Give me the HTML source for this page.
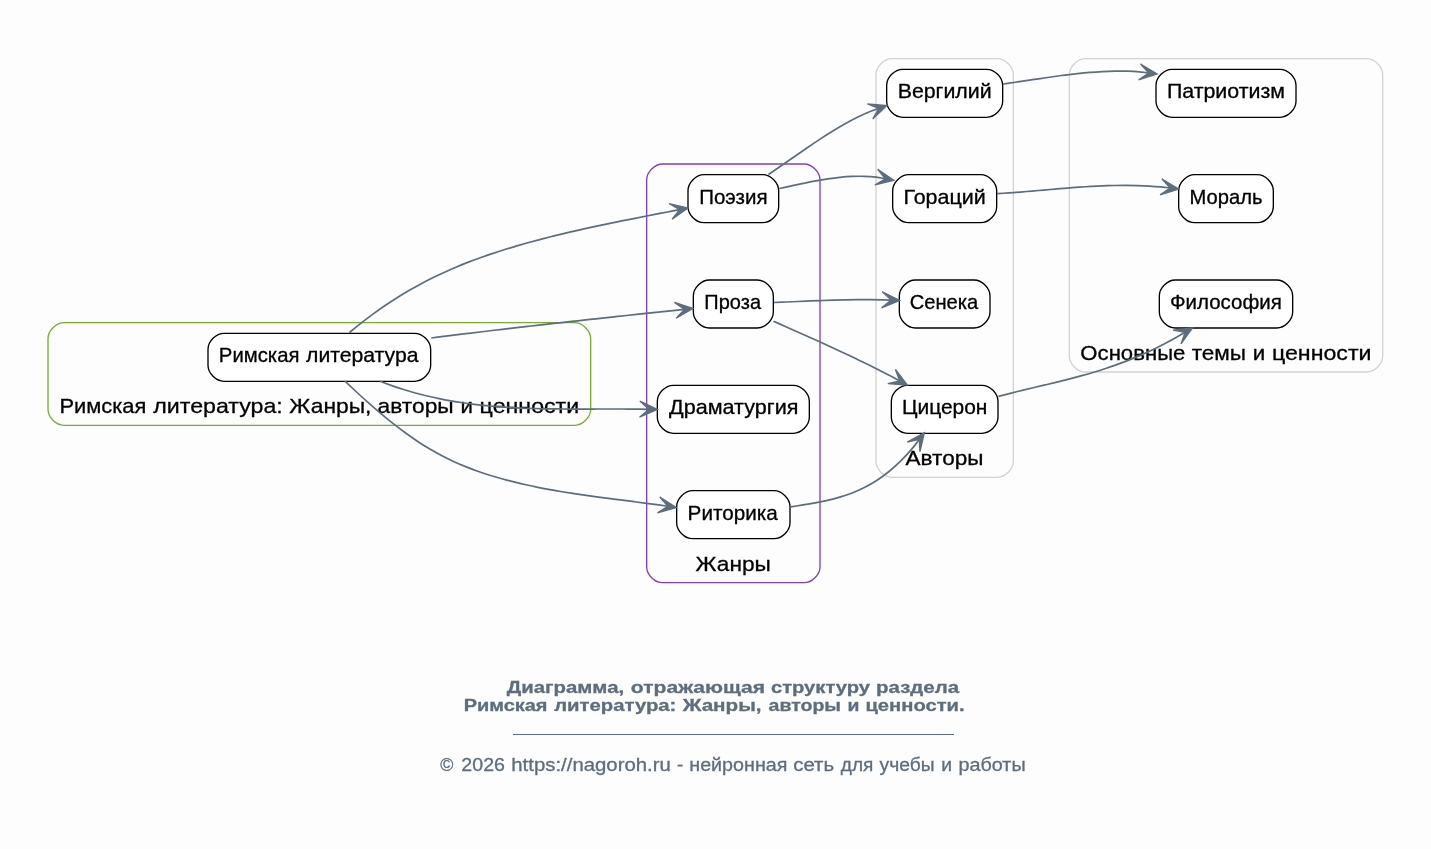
<!DOCTYPE html>
<html lang="ru"><head><meta charset="utf-8"><title>Римская литература</title>
<style>
html,body{margin:0;padding:0;background:#fdfdfd;overflow:hidden}
svg{display:block;font-family:"Liberation Sans",sans-serif;will-change:transform}
</style></head><body>
<svg width="1431" height="849" viewBox="0 0 1431 849">
<g id="clusters">
<path d="M64.00,425.33 C64.00,425.33 574.67,425.33 574.67,425.33 582.67,425.33 590.67,417.33 590.67,409.33 590.67,409.33 590.67,338.67 590.67,338.67 590.67,330.67 582.67,322.67 574.67,322.67 574.67,322.67 64.00,322.67 64.00,322.67 56.00,322.67 48.00,330.67 48.00,338.67 48.00,338.67 48.00,409.33 48.00,409.33 48.00,417.33 56.00,425.33 64.00,425.33" fill="none" stroke="#79ad30" stroke-width="1.33"/>
<text x="59.43" y="413.33" font-size="20.80" textLength="86.94" lengthAdjust="spacingAndGlyphs" fill="#000" stroke="#000" stroke-width="0.30">Римская</text>
<text x="153.32" y="413.33" font-size="20.80" textLength="129.45" lengthAdjust="spacingAndGlyphs" fill="#000" stroke="#000" stroke-width="0.30">литература:</text>
<text x="289.39" y="413.33" font-size="20.80" textLength="82.06" lengthAdjust="spacingAndGlyphs" fill="#000" stroke="#000" stroke-width="0.30">Жанры,</text>
<text x="377.60" y="413.33" font-size="20.80" textLength="76.15" lengthAdjust="spacingAndGlyphs" fill="#000" stroke="#000" stroke-width="0.30">авторы</text>
<text x="460.51" y="413.33" font-size="20.80" textLength="12.46" lengthAdjust="spacingAndGlyphs" fill="#000" stroke="#000" stroke-width="0.30">и</text>
<text x="479.63" y="413.33" font-size="20.80" textLength="99.55" lengthAdjust="spacingAndGlyphs" fill="#000" stroke="#000" stroke-width="0.30">ценности</text>
<path d="M662.67,582.67 C662.67,582.67 804.00,582.67 804.00,582.67 812.00,582.67 820.00,574.67 820.00,566.67 820.00,566.67 820.00,180.00 820.00,180.00 820.00,172.00 812.00,164.00 804.00,164.00 804.00,164.00 662.67,164.00 662.67,164.00 654.67,164.00 646.67,172.00 646.67,180.00 646.67,180.00 646.67,566.67 646.67,566.67 646.67,574.67 654.67,582.67 662.67,582.67" fill="none" stroke="#7a40cc" stroke-width="1.33"/>
<text x="695.57" y="570.67" font-size="20.80" textLength="75.30" lengthAdjust="spacingAndGlyphs" fill="#000" stroke="#000" stroke-width="0.30">Жанры</text>
<path d="M892.00,477.33 C892.00,477.33 997.33,477.33 997.33,477.33 1005.33,477.33 1013.33,469.33 1013.33,461.33 1013.33,461.33 1013.33,74.67 1013.33,74.67 1013.33,66.67 1005.33,58.67 997.33,58.67 997.33,58.67 892.00,58.67 892.00,58.67 884.00,58.67 876.00,66.67 876.00,74.67 876.00,74.67 876.00,461.33 876.00,461.33 876.00,469.33 884.00,477.33 892.00,477.33" fill="none" stroke="#d3d3d3" stroke-width="1.33"/>
<text x="905.57" y="465.33" font-size="20.80" textLength="77.98" lengthAdjust="spacingAndGlyphs" fill="#000" stroke="#000" stroke-width="0.30">Авторы</text>
<path d="M1085.33,372.00 C1085.33,372.00 1366.67,372.00 1366.67,372.00 1374.67,372.00 1382.67,364.00 1382.67,356.00 1382.67,356.00 1382.67,74.67 1382.67,74.67 1382.67,66.67 1374.67,58.67 1366.67,58.67 1366.67,58.67 1085.33,58.67 1085.33,58.67 1077.33,58.67 1069.33,66.67 1069.33,74.67 1069.33,74.67 1069.33,356.00 1069.33,356.00 1069.33,364.00 1077.33,372.00 1085.33,372.00" fill="none" stroke="#d3d3d3" stroke-width="1.33"/>
<text x="1080.36" y="360.00" font-size="20.80" textLength="105.00" lengthAdjust="spacingAndGlyphs" fill="#000" stroke="#000" stroke-width="0.30">Основные</text>
<text x="1191.67" y="360.00" font-size="20.80" textLength="54.39" lengthAdjust="spacingAndGlyphs" fill="#000" stroke="#000" stroke-width="0.30">темы</text>
<text x="1252.83" y="360.00" font-size="20.80" textLength="12.46" lengthAdjust="spacingAndGlyphs" fill="#000" stroke="#000" stroke-width="0.30">и</text>
<text x="1271.95" y="360.00" font-size="20.80" textLength="99.55" lengthAdjust="spacingAndGlyphs" fill="#000" stroke="#000" stroke-width="0.30">ценности</text>
</g>
<g id="nodes">
<path d="M414.67,333.33 C414.67,333.33 224.00,333.33 224.00,333.33 216.00,333.33 208.00,341.33 208.00,349.33 208.00,349.33 208.00,365.33 208.00,365.33 208.00,373.33 216.00,381.33 224.00,381.33 224.00,381.33 414.67,381.33 414.67,381.33 422.67,381.33 430.67,373.33 430.67,365.33 430.67,365.33 430.67,349.33 430.67,349.33 430.67,341.33 422.67,333.33 414.67,333.33" fill="#fff" stroke="#000" stroke-width="1.33"/>
<text x="218.86" y="362.27" font-size="19.41" textLength="80.63" lengthAdjust="spacingAndGlyphs" fill="#000" stroke="#000" stroke-width="0.30">Римская</text>
<text x="306.09" y="362.27" font-size="19.41" textLength="112.40" lengthAdjust="spacingAndGlyphs" fill="#000" stroke="#000" stroke-width="0.30">литература</text>
<path d="M762.67,174.67 C762.67,174.67 704.00,174.67 704.00,174.67 696.00,174.67 688.00,182.67 688.00,190.67 688.00,190.67 688.00,206.67 688.00,206.67 688.00,214.67 696.00,222.67 704.00,222.67 704.00,222.67 762.67,222.67 762.67,222.67 770.67,222.67 778.67,214.67 778.67,206.67 778.67,206.67 778.67,190.67 778.67,190.67 778.67,182.67 770.67,174.67 762.67,174.67" fill="#fff" stroke="#000" stroke-width="1.33"/>
<text x="699.26" y="203.60" font-size="19.41" textLength="68.26" lengthAdjust="spacingAndGlyphs" fill="#000" stroke="#000" stroke-width="0.30">Поэзия</text>
<path d="M757.33,280.00 C757.33,280.00 709.33,280.00 709.33,280.00 701.33,280.00 693.33,288.00 693.33,296.00 693.33,296.00 693.33,312.00 693.33,312.00 693.33,320.00 701.33,328.00 709.33,328.00 709.33,328.00 757.33,328.00 757.33,328.00 765.33,328.00 773.33,320.00 773.33,312.00 773.33,312.00 773.33,296.00 773.33,296.00 773.33,288.00 765.33,280.00 757.33,280.00" fill="#fff" stroke="#000" stroke-width="1.33"/>
<text x="704.38" y="308.93" font-size="19.41" textLength="56.64" lengthAdjust="spacingAndGlyphs" fill="#000" stroke="#000" stroke-width="0.30">Проза</text>
<path d="M793.33,385.33 C793.33,385.33 673.33,385.33 673.33,385.33 665.33,385.33 657.33,393.33 657.33,401.33 657.33,401.33 657.33,417.33 657.33,417.33 657.33,425.33 665.33,433.33 673.33,433.33 673.33,433.33 793.33,433.33 793.33,433.33 801.33,433.33 809.33,425.33 809.33,417.33 809.33,417.33 809.33,401.33 809.33,401.33 809.33,393.33 801.33,385.33 793.33,385.33" fill="#fff" stroke="#000" stroke-width="1.33"/>
<text x="669.01" y="414.27" font-size="19.41" textLength="129.42" lengthAdjust="spacingAndGlyphs" fill="#000" stroke="#000" stroke-width="0.30">Драматургия</text>
<path d="M774.00,490.67 C774.00,490.67 692.67,490.67 692.67,490.67 684.67,490.67 676.67,498.67 676.67,506.67 676.67,506.67 676.67,522.67 676.67,522.67 676.67,530.67 684.67,538.67 692.67,538.67 692.67,538.67 774.00,538.67 774.00,538.67 782.00,538.67 790.00,530.67 790.00,522.67 790.00,522.67 790.00,506.67 790.00,506.67 790.00,498.67 782.00,490.67 774.00,490.67" fill="#fff" stroke="#000" stroke-width="1.33"/>
<text x="687.62" y="519.60" font-size="19.41" textLength="90.08" lengthAdjust="spacingAndGlyphs" fill="#000" stroke="#000" stroke-width="0.30">Риторика</text>
<path d="M986.67,69.33 C986.67,69.33 902.67,69.33 902.67,69.33 894.67,69.33 886.67,77.33 886.67,85.33 886.67,85.33 886.67,101.33 886.67,101.33 886.67,109.33 894.67,117.33 902.67,117.33 902.67,117.33 986.67,117.33 986.67,117.33 994.67,117.33 1002.67,109.33 1002.67,101.33 1002.67,101.33 1002.67,85.33 1002.67,85.33 1002.67,77.33 994.67,69.33 986.67,69.33" fill="#fff" stroke="#000" stroke-width="1.33"/>
<text x="897.68" y="98.27" font-size="19.41" textLength="93.90" lengthAdjust="spacingAndGlyphs" fill="#000" stroke="#000" stroke-width="0.30">Вергилий</text>
<path d="M980.67,174.67 C980.67,174.67 908.67,174.67 908.67,174.67 900.67,174.67 892.67,182.67 892.67,190.67 892.67,190.67 892.67,206.67 892.67,206.67 892.67,214.67 900.67,222.67 908.67,222.67 908.67,222.67 980.67,222.67 980.67,222.67 988.67,222.67 996.67,214.67 996.67,206.67 996.67,206.67 996.67,190.67 996.67,190.67 996.67,182.67 988.67,174.67 980.67,174.67" fill="#fff" stroke="#000" stroke-width="1.33"/>
<text x="903.50" y="203.60" font-size="19.41" textLength="82.26" lengthAdjust="spacingAndGlyphs" fill="#000" stroke="#000" stroke-width="0.30">Гораций</text>
<path d="M974.00,280.00 C974.00,280.00 915.33,280.00 915.33,280.00 907.33,280.00 899.33,288.00 899.33,296.00 899.33,296.00 899.33,312.00 899.33,312.00 899.33,320.00 907.33,328.00 915.33,328.00 915.33,328.00 974.00,328.00 974.00,328.00 982.00,328.00 990.00,320.00 990.00,312.00 990.00,312.00 990.00,296.00 990.00,296.00 990.00,288.00 982.00,280.00 974.00,280.00" fill="#fff" stroke="#000" stroke-width="1.33"/>
<text x="909.71" y="308.93" font-size="19.41" textLength="68.46" lengthAdjust="spacingAndGlyphs" fill="#000" stroke="#000" stroke-width="0.30">Сенека</text>
<path d="M982.00,385.33 C982.00,385.33 907.33,385.33 907.33,385.33 899.33,385.33 891.33,393.33 891.33,401.33 891.33,401.33 891.33,417.33 891.33,417.33 891.33,425.33 899.33,433.33 907.33,433.33 907.33,433.33 982.00,433.33 982.00,433.33 990.00,433.33 998.00,425.33 998.00,417.33 998.00,417.33 998.00,401.33 998.00,401.33 998.00,393.33 990.00,385.33 982.00,385.33" fill="#fff" stroke="#000" stroke-width="1.33"/>
<text x="901.97" y="414.27" font-size="19.41" textLength="85.38" lengthAdjust="spacingAndGlyphs" fill="#000" stroke="#000" stroke-width="0.30">Цицерон</text>
<path d="M1280.00,69.33 C1280.00,69.33 1172.00,69.33 1172.00,69.33 1164.00,69.33 1156.00,77.33 1156.00,85.33 1156.00,85.33 1156.00,101.33 1156.00,101.33 1156.00,109.33 1164.00,117.33 1172.00,117.33 1172.00,117.33 1280.00,117.33 1280.00,117.33 1288.00,117.33 1296.00,109.33 1296.00,101.33 1296.00,101.33 1296.00,85.33 1296.00,85.33 1296.00,77.33 1288.00,69.33 1280.00,69.33" fill="#fff" stroke="#000" stroke-width="1.33"/>
<text x="1166.92" y="98.27" font-size="19.41" textLength="118.07" lengthAdjust="spacingAndGlyphs" fill="#000" stroke="#000" stroke-width="0.30">Патриотизм</text>
<path d="M1257.33,174.67 C1257.33,174.67 1194.67,174.67 1194.67,174.67 1186.67,174.67 1178.67,182.67 1178.67,190.67 1178.67,190.67 1178.67,206.67 1178.67,206.67 1178.67,214.67 1186.67,222.67 1194.67,222.67 1194.67,222.67 1257.33,222.67 1257.33,222.67 1265.33,222.67 1273.33,214.67 1273.33,206.67 1273.33,206.67 1273.33,190.67 1273.33,190.67 1273.33,182.67 1265.33,174.67 1257.33,174.67" fill="#fff" stroke="#000" stroke-width="1.33"/>
<text x="1189.49" y="203.60" font-size="19.41" textLength="72.93" lengthAdjust="spacingAndGlyphs" fill="#000" stroke="#000" stroke-width="0.30">Мораль</text>
<path d="M1276.67,280.00 C1276.67,280.00 1175.33,280.00 1175.33,280.00 1167.33,280.00 1159.33,288.00 1159.33,296.00 1159.33,296.00 1159.33,312.00 1159.33,312.00 1159.33,320.00 1167.33,328.00 1175.33,328.00 1175.33,328.00 1276.67,328.00 1276.67,328.00 1284.67,328.00 1292.67,320.00 1292.67,312.00 1292.67,312.00 1292.67,296.00 1292.67,296.00 1292.67,288.00 1284.67,280.00 1276.67,280.00" fill="#fff" stroke="#000" stroke-width="1.33"/>
<text x="1170.03" y="308.93" font-size="19.41" textLength="111.81" lengthAdjust="spacingAndGlyphs" fill="#000" stroke="#000" stroke-width="0.30">Философия</text>
</g>
<g id="edges">
<path d="M349.50,332.52 C353.46,329.18 357.43,325.96 361.39,322.85 C365.35,319.73 369.31,316.73 373.28,313.84 C377.24,310.95 381.20,308.16 385.16,305.48 C389.13,302.79 393.09,300.21 397.05,297.72 C401.02,295.23 404.98,292.84 408.94,290.54 C412.90,288.24 416.87,286.03 420.83,283.91 C424.79,281.78 428.75,279.75 432.72,277.79 C436.68,275.83 440.64,273.95 444.61,272.15 C448.57,270.34 452.53,268.61 456.49,266.95 C460.46,265.29 464.42,263.70 468.38,262.16 C472.35,260.63 476.31,259.15 480.27,257.73 C484.23,256.31 488.20,254.94 492.16,253.62 C496.12,252.30 500.08,251.02 504.05,249.78 C508.01,248.55 511.97,247.35 515.94,246.18 C519.90,245.02 523.86,243.89 527.82,242.78 C531.79,241.68 535.75,240.61 539.71,239.56 C543.67,238.52 547.64,237.50 551.60,236.51 C555.56,235.51 559.53,234.54 563.49,233.60 C567.45,232.65 571.41,231.72 575.38,230.82 C579.34,229.91 583.30,229.03 587.26,228.16 C591.23,227.29 595.19,226.43 599.15,225.59 C603.12,224.75 607.08,223.93 611.04,223.11 C615.00,222.30 618.97,221.49 622.93,220.70 C626.89,219.90 630.86,219.12 634.82,218.34 C638.78,217.56 642.74,216.78 646.71,216.01 C650.67,215.24 654.63,214.47 658.59,213.70 C662.56,212.93 666.52,212.17 670.48,211.40 L679.61,209.61" fill="none" stroke="#5d6d7e" stroke-width="1.70"/>
<polygon points="688.00,207.97 672.07,219.24 679.61,209.61 669.00,203.54" fill="#5d6d7e" stroke="#5d6d7e" stroke-width="1.30" stroke-linejoin="miter"/>
<path d="M431.25,338.00 C435.32,337.48 439.38,336.97 443.45,336.46 C447.52,335.95 451.58,335.45 455.65,334.95 C459.72,334.44 463.79,333.95 467.85,333.45 C471.92,332.96 475.99,332.46 480.05,331.98 C484.12,331.49 488.19,331.00 492.25,330.52 C496.32,330.04 500.39,329.56 504.45,329.08 C508.52,328.61 512.59,328.13 516.66,327.66 C520.72,327.19 524.79,326.72 528.86,326.26 C532.92,325.79 536.99,325.33 541.06,324.87 C545.12,324.41 549.19,323.95 553.26,323.50 C557.33,323.04 561.39,322.59 565.46,322.14 C569.53,321.69 573.59,321.24 577.66,320.79 C581.73,320.34 585.79,319.90 589.86,319.45 C593.93,319.01 597.99,318.57 602.06,318.13 C606.13,317.69 610.20,317.25 614.26,316.81 C618.33,316.38 622.40,315.94 626.46,315.51 C630.53,315.07 634.60,314.64 638.66,314.21 C642.73,313.78 646.80,313.35 650.86,312.92 C654.93,312.49 659.00,312.06 663.07,311.63 C667.13,311.20 671.20,310.78 675.27,310.35 L684.50,309.39" fill="none" stroke="#5d6d7e" stroke-width="1.70"/>
<polygon points="693.00,308.50 676.13,318.31 684.50,309.39 674.47,302.39" fill="#5d6d7e" stroke="#5d6d7e" stroke-width="1.30" stroke-linejoin="miter"/>
<path d="M380.00,381.26 C383.93,382.80 387.87,384.26 391.80,385.63 C395.74,387.01 399.67,388.31 403.61,389.53 C407.54,390.75 411.48,391.89 415.41,392.97 C419.34,394.04 423.28,395.04 427.21,395.98 C431.15,396.92 435.08,397.79 439.02,398.59 C442.95,399.40 446.88,400.15 450.82,400.84 C454.75,401.53 458.69,402.16 462.62,402.74 C466.56,403.32 470.49,403.85 474.43,404.33 C478.36,404.80 482.29,405.24 486.23,405.63 C490.16,406.01 494.10,406.36 498.03,406.67 C501.97,406.97 505.90,407.24 509.84,407.48 C513.77,407.71 517.70,407.91 521.64,408.08 C525.57,408.26 529.51,408.40 533.44,408.52 C537.38,408.63 541.31,408.73 545.24,408.80 C549.18,408.88 553.11,408.93 557.05,408.97 C560.98,409.01 564.92,409.03 568.85,409.04 C572.79,409.06 576.72,409.06 580.65,409.05 C584.59,409.05 588.52,409.04 592.46,409.03 C596.39,409.02 600.33,409.01 604.26,409.00 C608.20,408.99 612.13,408.99 616.06,408.99 C620.00,408.99 623.93,409.00 627.87,409.03 C631.80,409.05 635.74,409.09 639.67,409.14 L648.96,409.34" fill="none" stroke="#5d6d7e" stroke-width="1.70"/>
<polygon points="657.50,409.52 639.53,417.14 648.96,409.34 639.87,401.14" fill="#5d6d7e" stroke="#5d6d7e" stroke-width="1.30" stroke-linejoin="miter"/>
<path d="M345.00,381.21 C349.02,385.03 353.04,388.79 357.06,392.50 C361.08,396.20 365.10,399.84 369.12,403.40 C373.14,406.96 377.17,410.44 381.19,413.82 C385.21,417.20 389.23,420.48 393.25,423.65 C397.27,426.81 401.29,429.87 405.31,432.80 C409.33,435.73 413.35,438.54 417.37,441.21 C421.39,443.89 425.41,446.42 429.43,448.81 C433.45,451.19 437.48,453.43 441.50,455.53 C445.52,457.63 449.54,459.60 453.56,461.44 C457.58,463.29 461.60,465.01 465.62,466.63 C469.64,468.25 473.66,469.76 477.68,471.18 C481.70,472.60 485.72,473.93 489.74,475.19 C493.76,476.44 497.78,477.62 501.81,478.73 C505.83,479.85 509.85,480.90 513.87,481.90 C517.89,482.90 521.91,483.85 525.93,484.75 C529.95,485.65 533.97,486.50 537.99,487.31 C542.01,488.12 546.03,488.89 550.05,489.62 C554.07,490.36 558.09,491.05 562.12,491.72 C566.14,492.38 570.16,493.02 574.18,493.63 C578.20,494.24 582.22,494.83 586.24,495.40 C590.26,495.97 594.28,496.52 598.30,497.06 C602.32,497.60 606.34,498.12 610.36,498.64 C614.38,499.16 618.40,499.67 622.43,500.18 C626.45,500.70 630.47,501.21 634.49,501.72 C638.51,502.24 642.53,502.76 646.55,503.29 C650.57,503.82 654.59,504.37 658.61,504.93 L667.80,506.27" fill="none" stroke="#5d6d7e" stroke-width="1.70"/>
<polygon points="676.25,507.51 657.48,512.84 667.80,506.27 659.80,497.01" fill="#5d6d7e" stroke="#5d6d7e" stroke-width="1.30" stroke-linejoin="miter"/>
<path d="M768.50,174.50 C772.73,171.65 776.97,168.74 781.20,165.82 C785.43,162.89 789.66,159.94 793.90,156.99 C798.13,154.05 802.36,151.11 806.60,148.21 C810.83,145.31 815.06,142.45 819.29,139.66 C823.53,136.87 827.76,134.15 831.99,131.52 C836.22,128.90 840.46,126.38 844.69,123.98 C848.92,121.59 853.16,119.33 857.39,117.23 C861.62,115.13 865.85,113.19 870.09,111.45 L878.83,108.41" fill="none" stroke="#5d6d7e" stroke-width="1.70"/>
<polygon points="886.90,105.60 872.72,119.00 878.83,108.41 867.46,103.89" fill="#5d6d7e" stroke="#5d6d7e" stroke-width="1.30" stroke-linejoin="miter"/>
<path d="M779.40,188.50 C783.43,187.64 787.47,186.77 791.50,185.90 C795.54,185.03 799.57,184.16 803.61,183.33 C807.64,182.50 811.68,181.69 815.71,180.95 C819.74,180.20 823.78,179.51 827.81,178.90 C831.85,178.30 835.88,177.77 839.92,177.35 C843.95,176.93 847.98,176.61 852.02,176.43 C856.05,176.25 860.09,176.20 864.12,176.30 C868.16,176.41 872.19,176.67 876.23,177.11 L885.34,178.75" fill="none" stroke="#5d6d7e" stroke-width="1.70"/>
<polygon points="893.75,180.26 874.82,184.99 885.34,178.75 877.64,169.24" fill="#5d6d7e" stroke="#5d6d7e" stroke-width="1.30" stroke-linejoin="miter"/>
<path d="M774.00,302.50 C778.00,302.34 782.00,302.16 786.00,301.99 C789.99,301.82 793.99,301.65 797.99,301.48 C801.99,301.30 805.99,301.14 809.99,300.97 C813.98,300.81 817.98,300.66 821.98,300.52 C825.98,300.37 829.98,300.24 833.98,300.13 C837.97,300.01 841.97,299.91 845.97,299.83 C849.97,299.75 853.97,299.69 857.97,299.66 C861.96,299.63 865.96,299.62 869.96,299.64 C873.96,299.66 877.96,299.71 881.96,299.79 L891.21,300.11" fill="none" stroke="#5d6d7e" stroke-width="1.70"/>
<polygon points="899.75,300.40 881.69,307.79 891.21,300.11 882.23,291.80" fill="#5d6d7e" stroke="#5d6d7e" stroke-width="1.30" stroke-linejoin="miter"/>
<path d="M773.50,321.25 C777.44,322.99 781.37,324.73 785.31,326.48 C789.25,328.22 793.19,329.96 797.12,331.71 C801.06,333.46 805.00,335.21 808.93,336.98 C812.87,338.74 816.81,340.51 820.74,342.30 C824.68,344.08 828.62,345.88 832.56,347.69 C836.49,349.50 840.43,351.33 844.37,353.18 C848.30,355.03 852.24,356.90 856.18,358.79 C860.12,360.69 864.05,362.60 867.99,364.55 C871.93,366.49 875.86,368.46 879.80,370.46 C883.74,372.46 887.67,374.50 891.61,376.57 L899.77,380.95" fill="none" stroke="#5d6d7e" stroke-width="1.70"/>
<polygon points="907.30,385.00 887.83,383.62 899.77,380.95 895.41,369.52" fill="#5d6d7e" stroke="#5d6d7e" stroke-width="1.30" stroke-linejoin="miter"/>
<path d="M790.60,506.90 C794.70,506.23 798.80,505.59 802.90,504.93 C807.00,504.27 811.10,503.59 815.20,502.84 C819.30,502.10 823.40,501.28 827.50,500.35 C831.60,499.43 835.70,498.38 839.80,497.17 C843.90,495.96 848.00,494.58 852.10,492.99 C856.20,491.39 860.30,489.59 864.40,487.52 C868.50,485.45 872.60,483.11 876.70,480.46 C880.80,477.82 884.90,474.86 889.00,471.53 C893.10,468.21 897.20,464.53 901.30,460.43 C905.40,456.34 909.50,451.83 913.60,446.87 L919.22,439.48" fill="none" stroke="#5d6d7e" stroke-width="1.70"/>
<polygon points="924.40,432.68 919.98,451.69 919.22,439.48 907.25,441.99" fill="#5d6d7e" stroke="#5d6d7e" stroke-width="1.30" stroke-linejoin="miter"/>
<path d="M1003.10,83.99 C1007.24,83.43 1011.37,82.85 1015.51,82.25 C1019.64,81.64 1023.78,81.03 1027.91,80.40 C1032.05,79.78 1036.18,79.16 1040.32,78.54 C1044.45,77.93 1048.59,77.32 1052.72,76.73 C1056.86,76.15 1060.99,75.58 1065.13,75.05 C1069.26,74.52 1073.40,74.03 1077.53,73.58 C1081.67,73.13 1085.80,72.72 1089.94,72.38 C1094.07,72.03 1098.21,71.75 1102.34,71.53 C1106.48,71.32 1110.61,71.18 1114.75,71.12 C1118.89,71.06 1123.02,71.09 1127.16,71.21 C1131.29,71.34 1135.43,71.56 1139.56,71.89 L1148.77,72.99" fill="none" stroke="#5d6d7e" stroke-width="1.70"/>
<polygon points="1157.25,74.00 1138.63,79.83 1148.77,72.99 1140.52,63.94" fill="#5d6d7e" stroke="#5d6d7e" stroke-width="1.30" stroke-linejoin="miter"/>
<path d="M997.00,193.70 C1000.90,193.46 1004.81,193.20 1008.71,192.92 C1012.62,192.64 1016.52,192.34 1020.43,192.03 C1024.33,191.71 1028.24,191.38 1032.14,191.05 C1036.04,190.72 1039.95,190.38 1043.85,190.04 C1047.76,189.70 1051.66,189.36 1055.57,189.03 C1059.47,188.70 1063.37,188.38 1067.28,188.07 C1071.18,187.76 1075.09,187.46 1078.99,187.19 C1082.90,186.92 1086.80,186.66 1090.71,186.44 C1094.61,186.22 1098.51,186.02 1102.42,185.86 C1106.32,185.70 1110.23,185.57 1114.13,185.48 C1118.04,185.40 1121.94,185.35 1125.84,185.36 C1129.75,185.36 1133.65,185.42 1137.56,185.53 C1141.46,185.64 1145.37,185.80 1149.27,186.03 C1153.18,186.25 1157.08,186.54 1160.98,186.90 L1170.22,188.01" fill="none" stroke="#5d6d7e" stroke-width="1.70"/>
<polygon points="1178.70,189.02 1160.08,194.85 1170.22,188.01 1161.98,178.96" fill="#5d6d7e" stroke="#5d6d7e" stroke-width="1.30" stroke-linejoin="miter"/>
<path d="M998.40,396.41 C1002.37,395.35 1006.34,394.32 1010.31,393.32 C1014.27,392.33 1018.24,391.35 1022.21,390.39 C1026.18,389.43 1030.15,388.48 1034.12,387.54 C1038.08,386.60 1042.05,385.65 1046.02,384.71 C1049.99,383.76 1053.96,382.80 1057.93,381.82 C1061.89,380.85 1065.86,379.85 1069.83,378.83 C1073.80,377.80 1077.77,376.75 1081.74,375.66 C1085.70,374.56 1089.67,373.43 1093.64,372.24 C1097.61,371.05 1101.58,369.81 1105.55,368.51 C1109.51,367.21 1113.48,365.85 1117.45,364.41 C1121.42,362.97 1125.39,361.46 1129.36,359.88 C1133.32,358.29 1137.29,356.62 1141.26,354.88 C1145.23,353.14 1149.20,351.31 1153.17,349.41 C1157.14,347.51 1161.10,345.52 1165.07,343.45 C1169.04,341.38 1173.01,339.22 1176.98,336.99 L1185.00,332.35" fill="none" stroke="#5d6d7e" stroke-width="1.70"/>
<polygon points="1192.40,328.08 1180.99,343.91 1185.00,332.35 1172.99,330.06" fill="#5d6d7e" stroke="#5d6d7e" stroke-width="1.30" stroke-linejoin="miter"/>
</g>
<g id="footer">
<text x="506.82" y="693.00" font-size="17.33" textLength="117.31" lengthAdjust="spacingAndGlyphs" font-weight="bold" fill="#5d6d7e" stroke="#5d6d7e" stroke-width="0.30">Диаграмма,</text>
<text x="630.88" y="693.00" font-size="17.33" textLength="134.25" lengthAdjust="spacingAndGlyphs" font-weight="bold" fill="#5d6d7e" stroke="#5d6d7e" stroke-width="0.30">отражающая</text>
<text x="770.92" y="693.00" font-size="17.33" textLength="99.14" lengthAdjust="spacingAndGlyphs" font-weight="bold" fill="#5d6d7e" stroke="#5d6d7e" stroke-width="0.30">структуру</text>
<text x="876.06" y="693.00" font-size="17.33" textLength="83.10" lengthAdjust="spacingAndGlyphs" font-weight="bold" fill="#5d6d7e" stroke="#5d6d7e" stroke-width="0.30">раздела</text>
<text x="463.67" y="711.00" font-size="17.33" textLength="83.83" lengthAdjust="spacingAndGlyphs" font-weight="bold" fill="#5d6d7e" stroke="#5d6d7e" stroke-width="0.30">Римская</text>
<text x="554.16" y="711.00" font-size="17.33" textLength="122.20" lengthAdjust="spacingAndGlyphs" font-weight="bold" fill="#5d6d7e" stroke="#5d6d7e" stroke-width="0.30">литература:</text>
<text x="682.72" y="711.00" font-size="17.33" textLength="78.89" lengthAdjust="spacingAndGlyphs" font-weight="bold" fill="#5d6d7e" stroke="#5d6d7e" stroke-width="0.30">Жанры,</text>
<text x="768.59" y="711.00" font-size="17.33" textLength="72.45" lengthAdjust="spacingAndGlyphs" font-weight="bold" fill="#5d6d7e" stroke="#5d6d7e" stroke-width="0.30">авторы</text>
<text x="847.52" y="711.00" font-size="17.33" textLength="11.92" lengthAdjust="spacingAndGlyphs" font-weight="bold" fill="#5d6d7e" stroke="#5d6d7e" stroke-width="0.30">и</text>
<text x="865.46" y="711.00" font-size="17.33" textLength="99.15" lengthAdjust="spacingAndGlyphs" font-weight="bold" fill="#5d6d7e" stroke="#5d6d7e" stroke-width="0.30">ценности.</text>
<rect x="513" y="734" width="441" height="1" fill="#5d6d7e"/>
<text x="440.23" y="771.00" font-size="18.03" textLength="13.09" lengthAdjust="spacingAndGlyphs" fill="#5d6d7e" stroke="#5d6d7e" stroke-width="0.30">©</text>
<text x="461.39" y="771.00" font-size="18.03" textLength="43.51" lengthAdjust="spacingAndGlyphs" fill="#5d6d7e" stroke="#5d6d7e" stroke-width="0.30">2026</text>
<text x="511.27" y="771.00" font-size="18.03" textLength="159.60" lengthAdjust="spacingAndGlyphs" fill="#5d6d7e" stroke="#5d6d7e" stroke-width="0.30">https://nagoroh.ru</text>
<text x="677.12" y="771.00" font-size="18.03" textLength="6.22" lengthAdjust="spacingAndGlyphs" fill="#5d6d7e" stroke="#5d6d7e" stroke-width="0.30">-</text>
<text x="689.31" y="771.00" font-size="18.03" textLength="98.11" lengthAdjust="spacingAndGlyphs" fill="#5d6d7e" stroke="#5d6d7e" stroke-width="0.30">нейронная</text>
<text x="793.21" y="771.00" font-size="18.03" textLength="40.91" lengthAdjust="spacingAndGlyphs" fill="#5d6d7e" stroke="#5d6d7e" stroke-width="0.30">сеть</text>
<text x="840.82" y="771.00" font-size="18.03" textLength="32.56" lengthAdjust="spacingAndGlyphs" fill="#5d6d7e" stroke="#5d6d7e" stroke-width="0.30">для</text>
<text x="879.57" y="771.00" font-size="18.03" textLength="55.01" lengthAdjust="spacingAndGlyphs" fill="#5d6d7e" stroke="#5d6d7e" stroke-width="0.30">учебы</text>
<text x="941.34" y="771.00" font-size="18.03" textLength="10.80" lengthAdjust="spacingAndGlyphs" fill="#5d6d7e" stroke="#5d6d7e" stroke-width="0.30">и</text>
<text x="958.41" y="771.00" font-size="18.03" textLength="67.20" lengthAdjust="spacingAndGlyphs" fill="#5d6d7e" stroke="#5d6d7e" stroke-width="0.30">работы</text>
</g>
</svg>
</body></html>
